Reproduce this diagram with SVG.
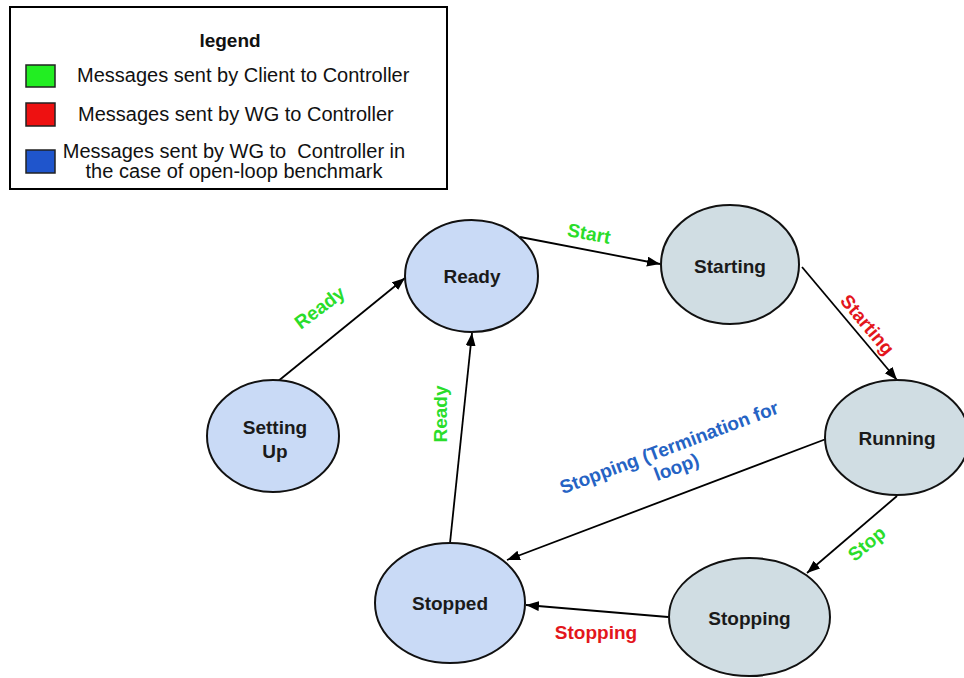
<svg xmlns="http://www.w3.org/2000/svg" width="964" height="678" viewBox="0 0 964 678">
<defs>
<marker id="arr" markerUnits="userSpaceOnUse" markerWidth="14" markerHeight="12" refX="13" refY="5" orient="auto">
<path d="M0,0 L13,5 L0,10 Z" fill="#000"/>
</marker>
<style>
.node ellipse{stroke:#111;stroke-width:2}
.blue ellipse{fill:#c9daf6}
.grey ellipse{fill:#d0dde3}
.nt{font-family:"Liberation Sans",Arial,sans-serif;font-weight:bold;font-size:19px;fill:#1a1a1a;text-anchor:middle}
.lt{font-family:"Liberation Sans",Arial,sans-serif;font-size:20px;fill:#111}
.el{font-family:"Liberation Sans",Arial,sans-serif;font-weight:bold;font-size:19px;text-anchor:middle}
.g{fill:#2add2a}
.r{fill:#e3161c}
.b{fill:#2563c4}
.conn line{stroke:#000;stroke-width:1.8;fill:none;marker-end:url(#arr)}
</style>
</defs>
<rect width="964" height="678" fill="#fff"/>
<g id="legend">
<rect x="10" y="7" width="437" height="182" fill="#fff" stroke="#000" stroke-width="2"/>
<text x="230" y="47" class="lt" style="font-weight:bold;font-size:19px" text-anchor="middle">legend</text>
<rect x="26" y="65" width="29" height="22" fill="#22ee22" stroke="#222" stroke-width="1.5"/>
<text x="77" y="82" class="lt">Messages sent by Client to Controller</text>
<rect x="26" y="103" width="29" height="23" fill="#ee1111" stroke="#222" stroke-width="1.5"/>
<text x="78" y="121" class="lt">Messages sent by WG to Controller</text>
<rect x="26" y="150" width="29" height="23" fill="#1f55cc" stroke="#222" stroke-width="1.5"/>
<text x="234" y="158" class="lt" text-anchor="middle" xml:space="preserve">Messages sent by WG to  Controller in</text>
<text x="234" y="178" class="lt" text-anchor="middle">the case of open-loop benchmark</text>
</g>
<g id="connectors" class="conn">
<line x1="277" y1="382" x2="405" y2="278"/>
<line x1="450" y1="543" x2="472" y2="333"/>
<line x1="520" y1="237" x2="660" y2="264"/>
<line x1="802" y1="267" x2="897" y2="380"/>
<line x1="826" y1="439" x2="507" y2="560"/>
<line x1="897" y1="496" x2="807" y2="573"/>
<line x1="668" y1="617" x2="526" y2="605"/>
</g>
<g id="edge-labels">
<text class="el g" transform="translate(320,308) rotate(-37)" x="0" y="6">Ready</text>
<text class="el g" transform="translate(441,414) rotate(-90)" x="0" y="6">Ready</text>
<text class="el g" transform="translate(589,234) rotate(10.7)" x="0" y="6">Start</text>
<text class="el r" transform="translate(867,325) rotate(50)" x="0" y="6">Starting</text>
<g transform="translate(669,447) rotate(-20.5)">
<text class="el b" x="0" y="7">Stopping (Termination for</text>
<text class="el b" x="0" y="28">loop)</text>
</g>
<text class="el g" transform="translate(867,544) rotate(-40)" x="0" y="6">Stop</text>
<text class="el r" x="596" y="639">Stopping</text>
</g>
<g id="node-setting-up" class="node blue">
<ellipse cx="273" cy="436" rx="66" ry="56"/>
<text class="nt" x="275" y="434">Setting</text>
<text class="nt" x="275" y="458">Up</text>
</g>
<g id="node-ready" class="node blue">
<ellipse cx="471.5" cy="276" rx="66.5" ry="56"/>
<text class="nt" x="472" y="283">Ready</text>
</g>
<g id="node-starting" class="node grey">
<ellipse cx="730" cy="264.5" rx="69" ry="59.5"/>
<text class="nt" x="730" y="273">Starting</text>
</g>
<g id="node-running" class="node grey">
<ellipse cx="897" cy="437.5" rx="72" ry="57.5"/>
<text class="nt" x="897" y="445">Running</text>
</g>
<g id="node-stopped" class="node blue">
<ellipse cx="450" cy="603" rx="75" ry="60"/>
<text class="nt" x="450" y="610">Stopped</text>
</g>
<g id="node-stopping" class="node grey">
<ellipse cx="749.5" cy="617" rx="80.5" ry="59"/>
<text class="nt" x="749.5" y="625">Stopping</text>
</g>
</svg>
